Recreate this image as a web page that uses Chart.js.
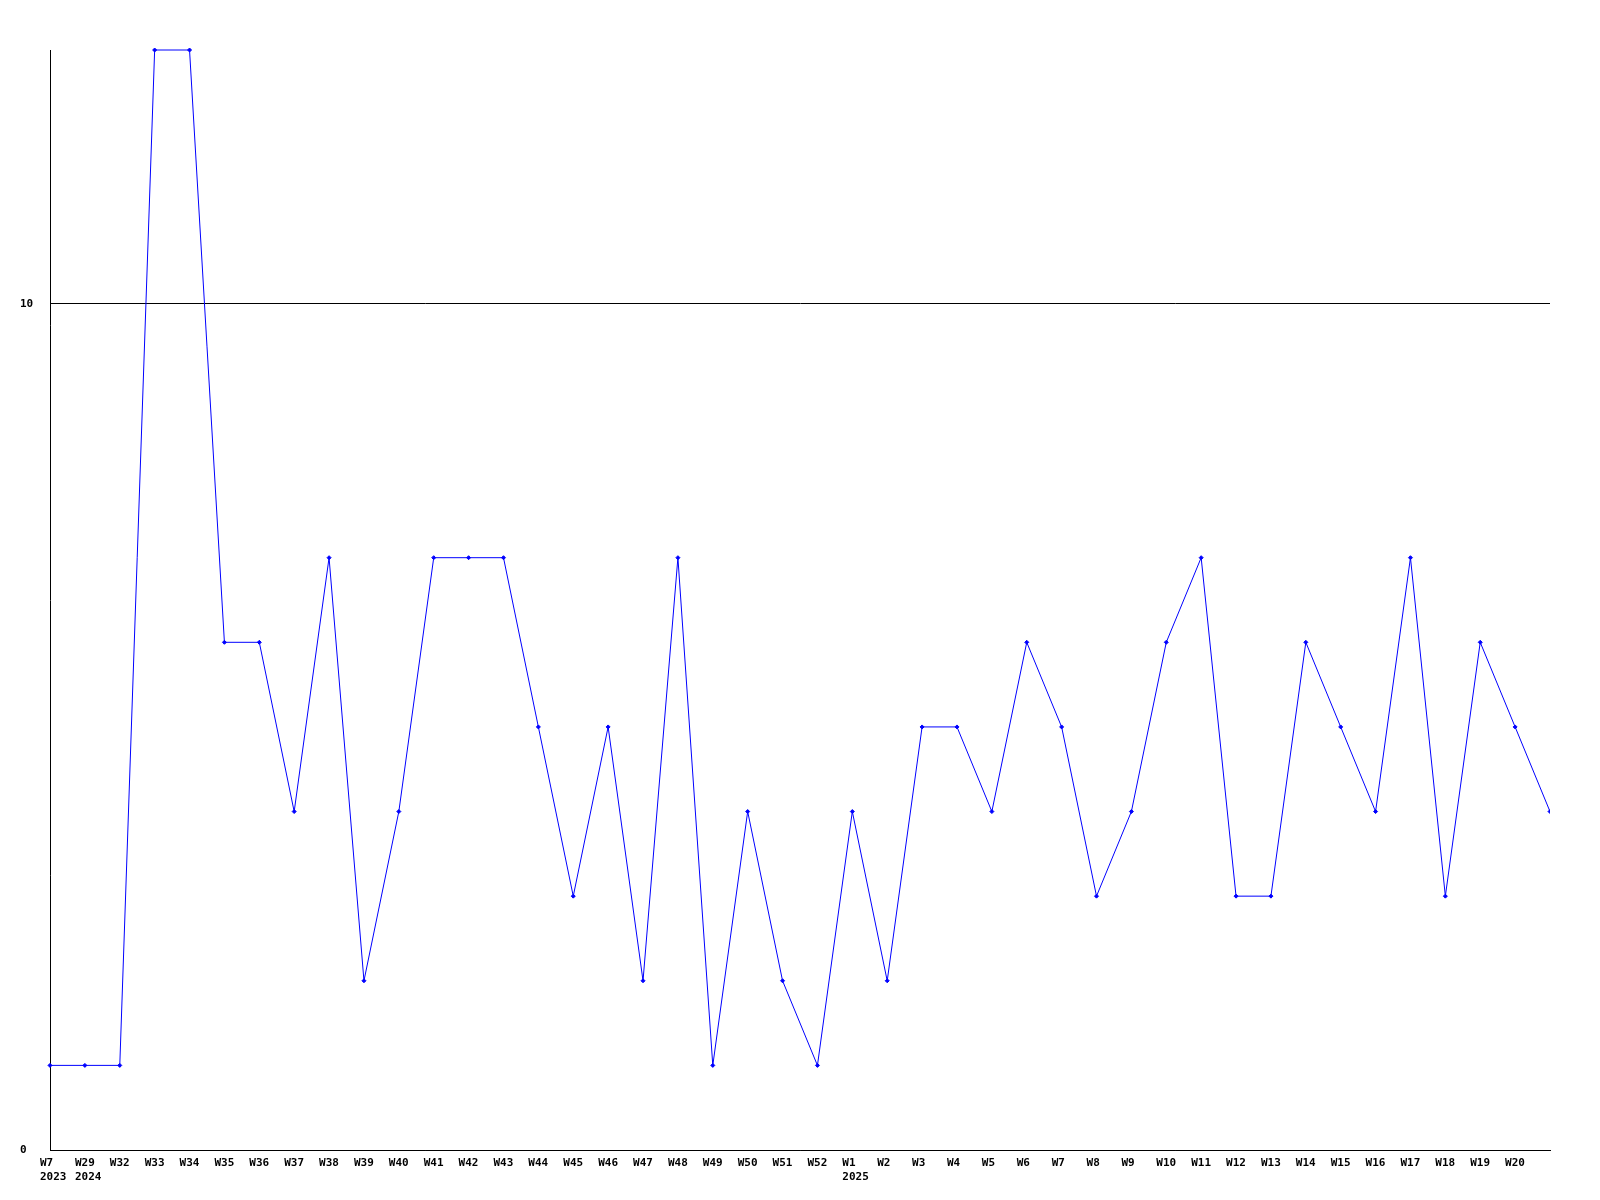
<!DOCTYPE html>
<html>
<head>
<meta charset="utf-8">
<script src="https://cdn.jsdelivr.net/npm/chart.js@4/dist/chart.umd.min.js"></script>
<style>
  html, body { margin: 0; padding: 0; background: #ffffff; }
  #wrap { width: 1600px; height: 1200px; }
</style>
</head>
<body>
<div id="wrap"><canvas id="c" width="1600" height="1200"></canvas></div>
<script>
const weeks = ["W7","W29","W32","W33","W34","W35","W36","W37","W38","W39","W40","W41","W42","W43","W44","W45","W46","W47","W48","W49","W50","W51","W52","W1","W2","W3","W4","W5","W6","W7","W8","W9","W10","W11","W12","W13","W14","W15","W16","W17","W18","W19","W20","W21"];
const yearMarks = { 0: "2023", 1: "2024", 23: "2025" };
const counts = [1,1,1,13,13,6,6,4,7,2,4,7,7,7,5,3,5,2,7,1,4,2,1,4,2,5,5,4,6,5,3,4,6,7,3,3,6,5,4,7,3,6,5,4];
const yTickValues = [0, 10];
const yMax = 13;

const FONT = { family: "'DejaVu Sans Mono', monospace", size: 11, weight: 'bold' };

new Chart(document.getElementById('c'), {
  type: 'line',
  data: {
    labels: weeks,
    datasets: [{
      data: counts,
      borderColor: '#0000ff',
      backgroundColor: '#0000ff',
      borderWidth: 1,
      pointStyle: 'rectRot',
      pointRadius: 2,
      pointBorderWidth: 1,
      tension: 0,
      fill: false,
      clip: { left: 5, top: 5, right: 0, bottom: 5 }
    }]
  },
  options: {
    responsive: false,
    animation: false,
    events: [],
    layout: { padding: { left: 20, right: 50, top: 50, bottom: 0 } },
    plugins: { legend: { display: false }, tooltip: { enabled: false }, title: { display: false } },
    scales: {
      x: {
        type: 'category',
        offset: false,
        grid: { display: false, drawTicks: false },
        border: { display: true, color: '#000000', width: 1 },
        ticks: {
          autoSkip: false,
          maxRotation: 0,
          minRotation: 0,
          align: 'start',
          labelOffset: -10,
          padding: 7,
          color: '#000000',
          font: FONT,
          callback: function(v, i) {
            if (i === weeks.length - 1) return '';
            const w = weeks[i];
            return yearMarks[i] ? [w, yearMarks[i]] : w;
          }
        },
        afterFit: function(s) { s.height = 50; }
      },
      y: {
        min: 0,
        max: yMax,
        grid: { display: true, color: '#000000', lineWidth: 1, drawTicks: false },
        border: { display: true, color: '#000000', width: 1 },
        afterBuildTicks: function(s) { s.ticks = yTickValues.map(v => ({ value: v })); },
        ticks: {
          color: '#000000',
          font: FONT,
          crossAlign: 'far',
          padding: 0
        },
        afterFit: function(s) { s.width = 30; }
      }
    }
  }
});
</script>
</body>
</html>
